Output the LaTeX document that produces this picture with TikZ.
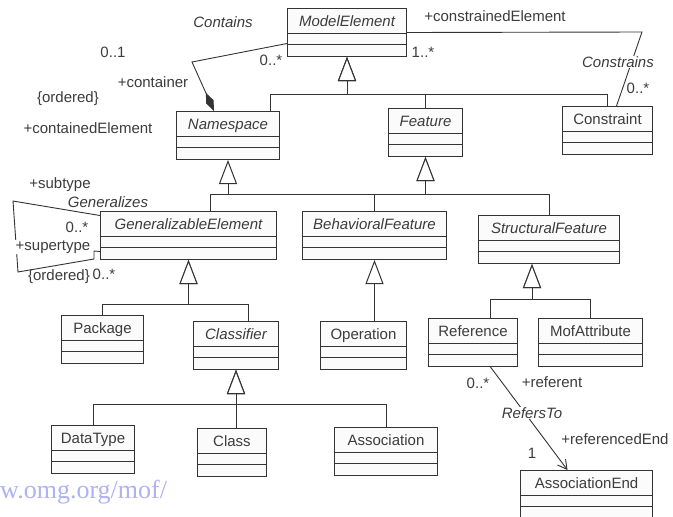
\documentclass[tikz,border=0pt]{standalone}
\usepackage{fontspec}
\setmainfont{Liberation Sans}
\newfontfamily\linkfont{Liberation Serif}
\usetikzlibrary{arrows.meta}
\definecolor{inkc}{HTML}{333333}
\definecolor{txtc}{HTML}{3C3C3C}
\definecolor{boxc}{HTML}{FBFBFB}
\definecolor{linkc}{HTML}{AEB2F2}
\newcommand{\umlsize}{\fontsize{15}{17}\selectfont}
\begin{document}
\begin{tikzpicture}[x=1pt,y=-1pt,
  cls/.style={draw=inkc, fill=boxc, line width=1pt, anchor=north west,
    minimum width=#1, minimum height=48pt, inner xsep=0pt, inner ysep=0pt,
    text height=18pt, text depth=30pt, font=\umlsize, text=txtc,
    path picture={\draw[inkc, line width=1pt]
      ([yshift=-25pt]path picture bounding box.north west) -- ([yshift=-25pt]path picture bounding box.north east)
      ([yshift=-36pt]path picture bounding box.north west) -- ([yshift=-36pt]path picture bounding box.north east);}},
  line/.style={draw=inkc, line width=1pt},
  gen/.style={line, -{Triangle[length=24pt, width=18pt, fill=white]}},
  assoc/.style={draw=inkc, line width=0.9pt},
  lbl/.style={font=\umlsize, text=txtc, inner sep=0pt},
  cut/.style={lbl, fill=white, inner sep=0.8pt}]

\fill[white] (0,0) rectangle (673,517);
\useasboundingbox (0,0) rectangle (673,517);

% classes
\node[cls=119pt] (ME) at (287,8)   {\itshape ModelElement};
\node[cls=103pt] (NS) at (176,111) {\itshape Namespace};
\node[cls=74pt]  (FT) at (388,108) {\itshape Feature};
\node[cls=90pt]  (CN) at (562,106) {Constraint};
\node[cls=176pt] (GE) at (100,211) {\itshape GeneralizableElement};
\node[cls=144pt] (BF) at (302,211) {\itshape BehavioralFeature};
\node[cls=141pt] (SF) at (478,215) {\itshape StructuralFeature};
\node[cls=82pt]  (PK) at (61,315)  {Package};
\node[cls=85pt]  (CL) at (193,321) {\itshape Classifier};
\node[cls=86pt]  (OP) at (320,321) {Operation};
\node[cls=89pt]  (RF) at (428,318) {Reference};
\node[cls=104pt] (MA) at (538,318) {MofAttribute};
\node[cls=83pt]  (DT) at (51,425)  {DataType};
\node[cls=69pt]  (CS) at (197,428) {Class};
\node[cls=103pt] (AS) at (334,427) {Association};
\node[cls=132pt] (AE) at (520,470) {AssociationEnd};

% generalizations
\coordinate (meBus) at ([yshift=-37pt]ME.south);
\draw[gen] ([xshift=-10pt]NS.north east) |- (meBus) -- (ME.south);
\draw[gen] (FT.north) |- (meBus) -- (ME.south);
\draw[gen] (CN.north) |- (meBus) -- (ME.south);

\coordinate (nsBus) at ([yshift=-34pt]NS.south);
\coordinate (ftBus) at ([yshift=-37pt]FT.south);
\draw[gen] ([xshift=22pt]GE.north) |- (nsBus) -- (NS.south);
\draw[line] (nsBus) -- (ftBus);
\draw[gen] (BF.north) |- (ftBus) -- (FT.south);
\draw[gen] (SF.north) |- (ftBus) -- (FT.south);

\coordinate (geBus) at ([yshift=-44pt]GE.south);
\draw[gen] (PK.north) |- (geBus) -- (GE.south);
\draw[gen] ([xshift=12pt]CL.north) |- (geBus) -- (GE.south);

\draw[gen] (BF.south |- OP.north) -- (BF.south);

\coordinate (sfTip) at ([xshift=-17pt]SF.south);
\coordinate (sfBus) at ([yshift=-35pt]sfTip);
\draw[gen] ([xshift=17pt]RF.north) |- (sfBus) -- (sfTip);
\draw[gen] (MA.north) |- (sfBus) -- (sfTip);

\coordinate (clBus) at ([yshift=-34pt]CL.south);
\draw[gen] (DT.north) |- (clBus) -- (CL.south);
\draw[gen] (AS.north) |- (clBus) -- (CL.south);
\draw[gen] (CL.south |- CS.north) -- (CL.south);

% associations
\coordinate (ctBend) at (192,62);
\draw[assoc, -{Diamond[length=20pt, width=8pt, fill=inkc]}]
  ([yshift=-11pt]ME.west) -- (ctBend) -- ([xshift=-14pt]NS.north);

\coordinate (csCorner) at (642,32);
\draw[assoc] (ME.east) -- (csCorner) -- ([xshift=9pt]CN.north);

\coordinate (gA) at (13,201);
\coordinate (gB) at (18,272);
\coordinate (gC) at (94,259);
\coordinate (gD) at (94,251);
\draw[assoc] ([yshift=20pt]GE.west) -- (gA) -- (gB) -- (gC) -- (gD) -- ([yshift=-16pt]GE.west);

\draw[assoc, -{Straight Barb[length=9pt, width=10pt]}]
  ([xshift=17.5pt]RF.south) -- ([xshift=-19pt]AE.north);

% role names, multiplicities and association names
\node[lbl] (lContains) at (223,22) {\itshape Contains};
\node[lbl] (lOne) at (113,52) {0..1};
\node[lbl] (lMany1) at (271,60) {0..*};
\node[lbl] (lContainer) at (153,82) {+container};
\node[lbl] (lOrd1) at (68,99) {\{ordered\}};
\node[lbl] (lContained) at (88,128) {+containedElement};
\node[lbl] (lConstrained) at (495,16) {+constrainedElement};
\node[lbl] (lOneMany) at (423,52) {1..*};
\node[cut] (lConstrains) at (618,62) {\itshape Constrains};
\node[lbl] (lMany2) at (638,88) {0..*};
\node[lbl] (lSub) at (60,185) {+subtype};
\node[lbl] (lGen) at (108,202) {\itshape Generalizes};
\node[lbl] (lMany3) at (77,227) {0..*};
\node[cut] (lSuper) at (53,247) {+supertype};
\node[lbl] (lOrd2) at (59,277) {\{ordered\}};
\node[lbl] (lMany4) at (104,274) {0..*};
\node[lbl] (lMany5) at (478,383) {0..*};
\node[lbl] (lReferent) at (552,382) {+referent};
\node[cut] (lRefers) at (532,413) {\itshape RefersTo};
\node[lbl] (lRefEnd) at (615,439) {+referencedEnd};
\node[lbl] (lOneEnd) at (532,453) {1};

% link text
\node[anchor=west, font=\linkfont\fontsize{26}{28}\selectfont, text=linkc, inner sep=0pt] (url) at (0,492) {w.omg.org/mof/};
\end{tikzpicture}
\end{document}
